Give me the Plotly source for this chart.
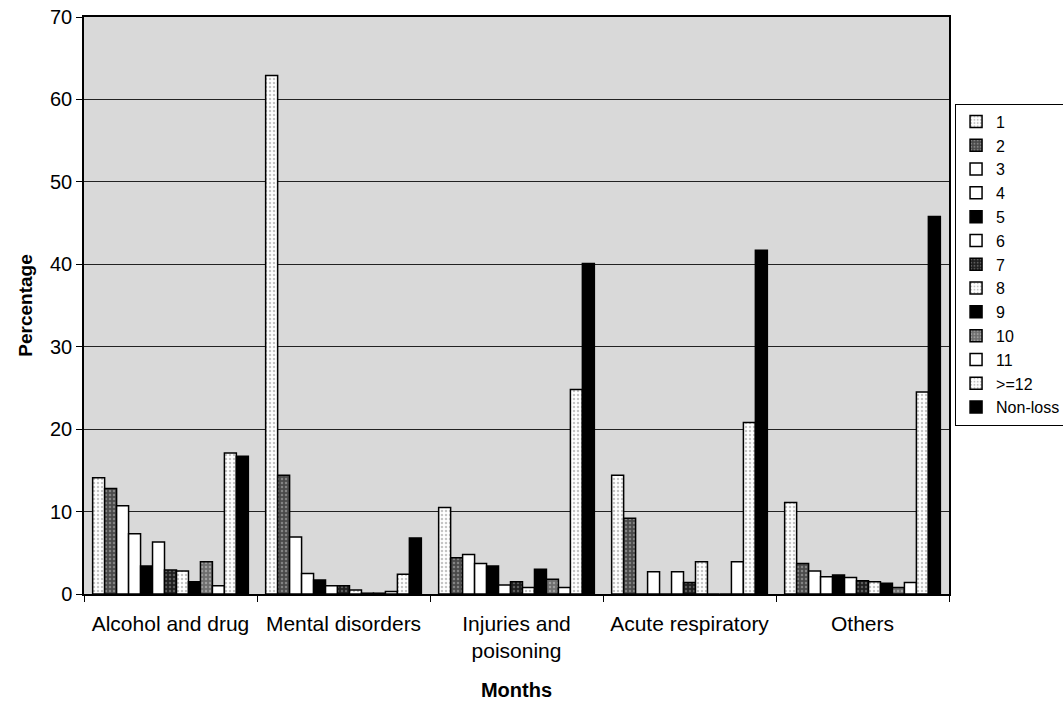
import plotly.graph_objects as go

categories = ["Alcohol and drug", "Mental disorders", "Injuries and<br>poisoning",
              "Acute respiratory", "Others"]
series_names = ["1", "2", "3", "4", "5", "6", "7", "8", "9", "10", "11", ">=12", "Non-loss"]

alcohol = [14.1, 12.8, 10.7, 7.3, 3.4, 6.3, 2.9, 2.8, 1.5, 3.9, 1.0, 17.1, 16.7]
mental = [62.9, 14.4, 6.9, 2.5, 1.7, 1.0, 1.0, 0.5, 0.1, 0.1, 0.3, 2.4, 6.8]
injuries = [10.5, 4.4, 4.8, 3.7, 3.4, 1.1, 1.5, 0.8, 3.0, 1.8, 0.8, 24.8, 40.1]
respiratory = [14.4, 9.2, 0.0, 2.7, 0.0, 2.7, 1.4, 3.9, 0.0, 0.0, 3.9, 20.8, 41.7]
others = [11.1, 3.7, 2.8, 2.1, 2.3, 2.0, 1.6, 1.5, 1.3, 0.8, 1.4, 24.5, 45.8]

groups = [alcohol, mental, injuries, respiratory, others]

# fill styles per series: (background colour, pattern colour or None)
styles = [
    ("#ffffff", "#8a8a8a"),  # 1 light dotted
    ("#4a4a4a", "#bdbdbd"),  # 2 dark speckled
    ("#ffffff", None),       # 3
    ("#ffffff", None),       # 4
    ("#000000", None),       # 5
    ("#ffffff", None),       # 6
    ("#1e1e1e", "#9a9a9a"),  # 7
    ("#ffffff", "#8a8a8a"),  # 8
    ("#000000", None),       # 9
    ("#6e6e6e", "#d0d0d0"),  # 10
    ("#ffffff", None),       # 11
    ("#ffffff", "#8a8a8a"),  # >=12
    ("#000000", None),       # Non-loss
]

FONT = "Arial, Liberation Sans, sans-serif"

fig = go.Figure()
for i, name in enumerate(series_names):
    vals = [g[i] for g in groups]
    bg, fg = styles[i]
    marker = dict(color=bg, line=dict(color="#000000", width=1.5))
    if fg is not None:
        marker["pattern"] = dict(shape=".", fgcolor=fg, bgcolor=bg, size=4, solidity=0.3)
    fig.add_trace(go.Bar(x=categories, y=vals, name=name, marker=marker))

fig.update_layout(
    width=1063, height=704,
    margin=dict(l=84, r=114, t=17, b=110, autoexpand=False),
    paper_bgcolor="#ffffff",
    plot_bgcolor="#d9d9d9",
    barmode="group",
    bargap=0.1,
    bargroupgap=0,
    font=dict(family=FONT, color="#000000"),
    legend=dict(
        x=1.007, xanchor="left", y=0.85, yanchor="top",
        bordercolor="#000000", borderwidth=1, bgcolor="#ffffff",
        font=dict(size=16, family=FONT),
        itemwidth=30,
    ),
    xaxis=dict(
        title=dict(text="<b>Months</b>", font=dict(size=20, family=FONT), standoff=22),
        tickfont=dict(size=21, family=FONT),
        ticklabelstandoff=10,
        showline=True, linecolor="#000000", linewidth=1.5, mirror=True,
        ticks="outside", tickson="boundaries", ticklen=6, tickcolor="#000000",
    ),
    yaxis=dict(
        title=dict(text="<b>Percentage</b>", font=dict(size=19, family=FONT), standoff=12),
        tickfont=dict(size=20, family=FONT),
        range=[0, 70], dtick=10,
        showline=True, linecolor="#000000", linewidth=1.5, mirror=True,
        ticks="outside", ticklen=6, tickcolor="#000000",
        showgrid=True, gridcolor="#222222", gridwidth=1,
        zeroline=False,
    ),
)

fig.write_html("out.html")
